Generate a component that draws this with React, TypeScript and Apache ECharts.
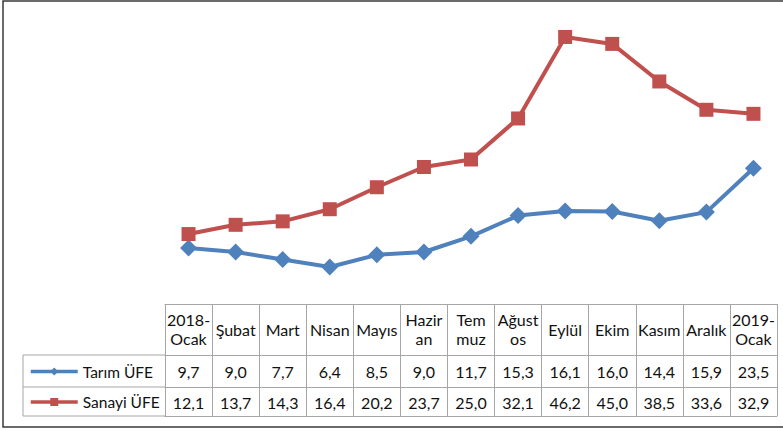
import React, { useEffect, useRef } from "react";
import * as echarts from "echarts";

const categories = ["2018-\nOcak", "Şubat", "Mart", "Nisan", "Mayıs", "Hazir\nan", "Tem\nmuz", "Ağust\nos", "Eylül", "Ekim", "Kasım", "Aralık", "2019-\nOcak"];
const tarimUFE = [9.7, 9.0, 7.7, 6.4, 8.5, 9.0, 11.7, 15.3, 16.1, 16.0, 14.4, 15.9, 23.5];
const sanayiUFE = [12.1, 13.7, 14.3, 16.4, 20.2, 23.7, 25.0, 32.1, 46.2, 45.0, 38.5, 33.6, 32.9];
const seriesNames = ["Tarım ÜFE", "Sanayi ÜFE"];

const fmt = (v: number) => v.toFixed(1).replace(".", ",");

export default function App() {
  const ref = useRef<HTMLDivElement>(null);
  useEffect(() => {
    if (!ref.current) return;
    const chart = echarts.init(ref.current, undefined, { renderer: "svg" });
    const font = "Lato";
    const fs = 16;
    const grid = "#a6a6a6";
    const textColor = "#111";
    const baseAxis = {
      type: "category" as const,
      data: categories,
      position: "bottom" as const,
      boundaryGap: true,
      axisLine: { show: true, lineStyle: { color: grid, width: 1 } },
      axisTick: { show: false },
      splitLine: { show: false },
    };
    chart.setOption({
      animation: false,
      grid: { left: 165, right: 6, top: 15, bottom: 127 },
      legend: {
        orient: "vertical",
        left: 24,
        top: 358,
        itemWidth: 47,
        itemHeight: 10,
        itemGap: 13.5,
        data: seriesNames,
        lineStyle: { width: 3.5 },
        textStyle: { fontFamily: font, fontSize: 15.5, color: textColor, lineHeight: 17 },
      },
      xAxis: [
        {
          ...baseAxis,
          axisTick: { show: true, interval: 0, length: 112, lineStyle: { color: grid } },
          axisLabel: {
            interval: 0,
            margin: 25,
            verticalAlign: "middle",
            fontFamily: font,
            fontSize: fs,
            lineHeight: 19,
            color: textColor,
          },
        },
        {
          ...baseAxis,
          offset: 51,
          axisLabel: {
            interval: 0,
            margin: 16,
            verticalAlign: "middle",
            fontFamily: font,
            fontSize: fs,
            color: textColor,
            formatter: (_v: string, i: number) => fmt(tarimUFE[i]),
          },
        },
        {
          ...baseAxis,
          offset: 83,
          axisLabel: {
            interval: 0,
            margin: 15,
            verticalAlign: "middle",
            fontFamily: font,
            fontSize: fs,
            color: textColor,
            formatter: (_v: string, i: number) => fmt(sanayiUFE[i]),
          },
        },
        {
          ...baseAxis,
          offset: 112,
          axisLabel: { show: false },
        },
      ],
      yAxis: { type: "value", min: 0, max: 50, show: false, splitLine: { show: false } },
      series: [
        {
          name: seriesNames[0],
          type: "line",
          data: tarimUFE,
          symbol: "diamond",
          symbolSize: 17,
          color: "#4f81bd",
          lineStyle: { color: "#4f81bd", width: 4 },
          itemStyle: { color: "#4f81bd" },
        },
        {
          name: seriesNames[1],
          type: "line",
          data: sanayiUFE,
          symbol: "rect",
          symbolSize: 14,
          color: "#c0504d",
          lineStyle: { color: "#c0504d", width: 4 },
          itemStyle: { color: "#c0504d" },
        },
      ],
      graphic: [
        {
          type: "rect",
          shape: { x: 3, y: 1, width: 800, height: 426 },
          style: { fill: "none", stroke: "#3a3a3a", lineWidth: 1.5 },
          silent: true,
        },
        { type: "line", shape: { x1: 23, y1: 355, x2: 165, y2: 355 }, style: { stroke: grid, lineWidth: 1 } },
        { type: "line", shape: { x1: 23, y1: 387, x2: 165, y2: 387 }, style: { stroke: grid, lineWidth: 1 } },
        { type: "line", shape: { x1: 23, y1: 416, x2: 165, y2: 416 }, style: { stroke: grid, lineWidth: 1 } },
        { type: "line", shape: { x1: 23, y1: 355, x2: 23, y2: 416 }, style: { stroke: grid, lineWidth: 1 } },
      ],
    });
    return () => chart.dispose();
  }, []);
  return (
    <div
      ref={ref}
      style={{ position: "fixed", left: 0, top: 0, width: 783, height: 431, background: "#fff" }}
    />
  );
}
